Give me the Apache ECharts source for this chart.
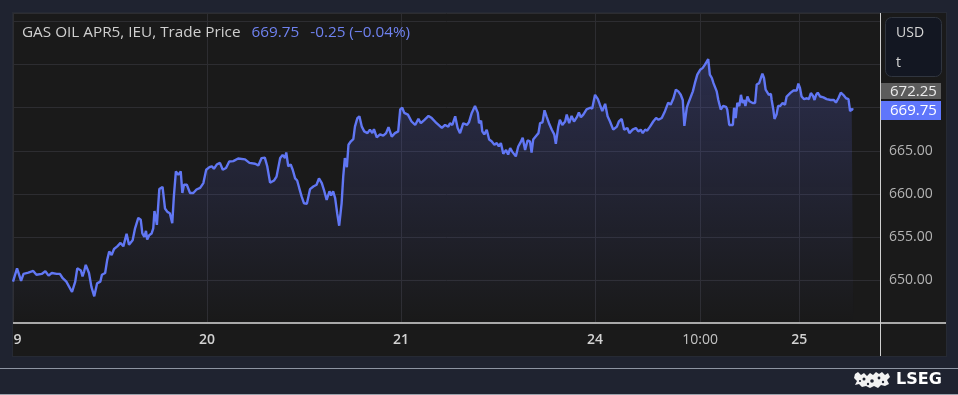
<!DOCTYPE html>
<html>
<head>
<meta charset="utf-8">
<script src="https://cdn.jsdelivr.net/npm/echarts@6/dist/echarts.min.js"></script>
<style>
  html,body{margin:0;padding:0;background:#1f2330;width:958px;height:395px;overflow:hidden;}
  #panel{position:absolute;left:12px;top:12px;width:933px;height:343px;background:#1a1a1a;border:1px solid #262a34;}
  #sep{position:absolute;left:0;top:368px;width:958px;height:1px;background:#8d94a2;}
  #bot{position:absolute;left:0;top:394px;width:958px;height:1px;background:#9ba0aa;}
  #chart{position:absolute;left:0;top:0;width:958px;height:395px;}
</style>
</head>
<body>
<div id="panel"></div>
<div id="sep"></div>
<div id="bot"></div>
<div id="chart"></div>
<script>
// ---- data (trading hours since start of 19th, price) ----
const hours = [
  0, 0.5, 0.7, 1.0, 1.3, 1.9, 2.5, 2.9, 3.55, 4.0,
  4.4, 4.8, 5.4, 5.8, 6.15, 6.6, 7.3, 7.7, 7.95, 8.4,
  8.6, 8.8, 9.0, 9.4, 9.7, 10.05, 10.4, 10.8, 11.0, 11.4,
  11.65, 11.9, 12.2, 12.5, 12.9, 13.3, 13.65, 14.05, 14.35, 14.8,
  15.1, 15.5, 15.8, 16.0, 16.25, 16.45, 16.6, 16.85, 17.15, 17.35,
  17.5, 17.8, 18.1, 18.5, 18.8, 19.1, 19.4, 19.7, 19.9, 20.15,
  20.45, 20.75, 20.95, 21.15, 21.5, 21.9, 22.3, 22.7, 23.15, 23.55,
  23.9, 24.3,
  24.6, 24.85, 25.2, 25.6, 25.95, 26.35, 26.75, 27.25, 27.85, 28.7,
  29.25, 29.95, 30.35, 30.75, 31.15, 31.45, 31.8, 32.3, 32.6, 33.05,
  33.35, 33.65, 33.8, 34.05, 34.35, 34.6, 34.9, 35.15, 35.4, 35.7,
  36.0, 36.35, 36.75, 37.15, 37.55, 37.85, 38.2, 38.45, 38.8, 39.15,
  39.35, 39.6, 39.85, 40.1, 40.35, 40.65, 40.85, 41.05, 41.3, 41.5,
  41.8, 42.1, 42.3, 42.6, 42.85, 43.15, 43.45, 43.85, 44.15, 44.45,
  44.65, 45.0, 45.4, 45.8, 46.15, 46.45, 46.85, 47.25, 47.65, 47.9,
  48.15, 48.4, 48.85, 49.3, 49.75, 50.15, 50.45, 50.9, 51.4, 51.8,
  52.4, 53.05, 53.45, 53.85, 54.05, 54.35, 54.7, 55.0, 55.3, 55.7,
  56.15, 56.4, 56.75, 57.15, 57.5, 57.65, 57.9, 58.05, 58.3, 58.6,
  58.9, 59.2, 59.55, 59.85, 60.1, 60.35, 60.65, 61.0, 61.25, 61.5,
  61.75, 62.2, 62.5, 62.85, 63.05, 63.35, 63.65, 63.95, 64.15, 64.35,
  64.65, 65.0, 65.2, 65.5, 65.75, 66.0, 66.3, 66.65, 66.95, 67.15,
  67.45, 67.65, 67.95, 68.3, 68.5, 68.8, 69.1, 69.4, 69.75, 70.0,
  70.25, 70.55, 70.95, 71.4, 71.65,
  72.0, 72.35, 72.6, 72.9, 73.25, 73.55, 73.85, 74.25, 74.7, 74.95,
  75.3, 75.6, 76.0, 76.25, 76.65, 77.05, 77.35, 77.65, 77.9, 78.2,
  78.45, 78.8, 79.2, 79.55, 79.85, 80.25, 80.65, 81.05, 81.35, 81.7,
  82.0, 82.3, 82.6, 82.85, 83.05, 83.35, 83.55, 83.75, 84.1, 84.35,
  84.65, 85.0, 85.3, 85.6, 85.75, 86.0, 86.2, 86.45, 86.65, 86.85,
  87.05, 87.25, 87.55, 87.85, 88.2, 88.35, 88.6, 88.8, 89.05, 89.2,
  89.4, 89.6, 89.85, 90.05, 90.25, 90.45, 90.6, 90.85, 91.1, 91.3,
  91.5, 91.8, 92.0, 92.3, 92.5, 92.7, 92.9, 93.1, 93.3, 93.5,
  93.75, 93.85, 94.05, 94.2, 94.45, 94.65, 94.9, 95.2, 95.5, 95.7,
  95.9, 96.2, 96.55, 96.95, 97.15, 97.35, 97.55, 97.85, 98.2, 98.45,
  98.7, 98.95, 99.15, 99.35, 99.55, 99.85, 100.25, 100.65, 101.15, 101.55,
  101.8, 102.1, 102.4, 102.7, 103.05, 103.35, 103.55, 103.75, 103.95
];
const prices = [
  649.8, 651.35, 651.2, 649.9, 650.7, 650.85, 651.05, 650.6, 650.7, 651.0,
  650.5, 650.8, 650.7, 650.7, 650.2, 649.8, 648.6, 649.8, 651.35, 651.1,
  650.4, 651.0, 651.75, 650.8, 649.2, 648.1, 649.6, 649.8, 650.6, 650.8,
  652.3, 653.3, 652.9, 653.6, 653.9, 654.3, 653.9, 655.35, 654.1, 654.6,
  656.0, 657.2, 657.0, 655.4, 655.0, 655.7, 654.7, 655.2, 655.4, 656.0,
  658.0, 656.4, 660.55, 660.8, 658.3, 657.9, 657.75, 656.6, 659.7, 662.6,
  662.2, 662.6, 660.1, 661.05, 661.05, 660.1, 660.1, 660.5, 660.7, 661.25,
  662.8, 663.1,
  663.2, 662.9, 663.4, 663.6, 662.8, 663.0, 663.75, 663.8, 664.1, 664.0,
  663.6, 663.5, 663.3, 664.15, 664.2, 663.2, 661.3, 661.55, 662.0, 664.15,
  664.5, 664.15, 664.8, 663.2, 663.4, 662.8, 661.8, 661.55, 660.7, 659.7,
  658.9, 658.85, 660.55, 660.85, 661.05, 661.8, 661.25, 660.5, 659.3, 660.3,
  659.8, 660.3, 659.5, 657.75, 656.3, 658.9, 662.0, 664.15, 663.1, 665.7,
  666.1, 666.35, 667.8, 668.8, 669.0, 667.8, 667.25, 667.05, 667.45, 667.05,
  667.5, 666.55, 666.9, 666.75, 667.05, 667.75, 666.65, 667.05, 667.25, 669.8,
  670.0, 669.4, 669.2, 668.4, 668.0, 668.7, 668.2, 668.6, 669.05, 668.8,
  668.2, 667.65, 668.0, 667.8, 668.2, 668.0, 669.0, 667.65, 667.05, 668.2,
  668.0, 668.3, 669.4, 670.2, 669.4, 668.2, 668.5, 667.25, 666.9, 667.45,
  666.3, 666.1, 665.7, 665.9, 665.5, 665.9, 664.65, 665.1, 664.55, 665.3,
  664.9, 664.35, 665.5, 666.1, 666.5, 665.1, 666.2, 666.1, 664.8, 666.3,
  666.65, 667.05, 668.2, 668.3, 669.7, 669.0, 668.2, 667.45, 666.9, 665.8,
  667.8, 668.6, 668.0, 668.4, 669.2, 668.2, 669.05, 668.4, 668.9, 669.45,
  668.9, 669.2, 669.8, 670.0, 669.9,
  671.5, 671.0, 670.35, 669.6, 670.45, 669.0, 668.4, 667.45, 667.8, 668.4,
  668.7, 667.45, 667.65, 667.05, 667.45, 667.65, 667.25, 667.45, 667.05, 667.45,
  667.35, 667.8, 668.4, 668.8, 668.6, 668.8, 669.6, 670.6, 670.35, 671.1,
  672.1, 671.9, 671.5, 670.9, 667.9, 670.0, 670.55, 670.35, 671.9, 672.85,
  673.85, 674.4, 674.6, 675.0, 674.8, 675.65, 673.85, 673.45, 672.85, 673.05,
  671.9, 670.9, 669.8, 670.2, 670.1, 669.8, 668.0, 667.9, 668.0, 670.0,
  668.8, 670.55, 670.2, 671.5, 670.55, 670.9, 670.2, 671.3, 670.75, 670.9,
  670.55, 670.55, 672.7, 672.85, 672.7, 673.95, 673.45, 672.1, 672.2, 671.5,
  671.6, 670.9, 669.8, 668.7, 669.2, 670.2, 670.2, 670.55, 670.35, 671.3,
  671.1, 671.75, 672.0, 672.0, 672.8, 672.3, 671.3, 671.0, 671.1, 671.0,
  671.7, 671.4, 670.9, 671.5, 671.75, 671.3, 671.2, 671.0, 670.9, 670.9,
  670.6, 671.1, 671.75, 671.5, 671.1, 671.0, 669.6, 669.85, 669.75
];
// x tick positions (trading hours) and their labels
const tickHours  = [0, 24, 48, 72, 85, 97.25];
const tickLabels = ['9', '20', '21', '24', '10:00', '25'];
const tickBold   = [true, true, true, true, false, true];
// y axis labelled ticks
const yLabelled = [650, 655, 660, 665];
const lastPrice = 669.75;
const refPrice = 672.25;
const change = '-0.25';
const changePct = '(\u22120.04%)';
const titleText = 'GAS OIL APR5, IEU, Trade Price';

const FONT = 'Open Sans';
const chart = echarts.init(document.getElementById('chart'), null, {renderer: 'canvas'});
const seriesData = hours.map((h, i) => [h, prices[i]]);

const baseGraphic = [
  {type: 'line', silent: true, z: 10, shape: {x1: 13, y1: 323, x2: 946, y2: 323}, style: {stroke: '#a9a9a9', lineWidth: 2}},
  {type: 'line', silent: true, z: 10, shape: {x1: 880.5, y1: 13, x2: 880.5, y2: 356}, style: {stroke: '#cfcfcf', lineWidth: 1}},
  {type: 'rect', silent: true, z: 10, shape: {x: 885.5, y: 17.5, width: 56, height: 59, r: 6}, style: {fill: '#131722', stroke: '#30353f', lineWidth: 1}},
  {type: 'text', silent: true, z: 11, x: 896, y: 33, style: {text: 'USD', fill: '#d6d6d6', fontSize: 14, fontFamily: FONT, verticalAlign: 'middle'}},
  {type: 'text', silent: true, z: 11, x: 896, y: 63, style: {text: 't', fill: '#d6d6d6', fontSize: 14, fontFamily: FONT, verticalAlign: 'middle'}},
  {type: 'text', silent: true, z: 11, x: 896, y: 380, style: {text: 'LSEG', fill: '#ffffff', fontSize: 16, fontWeight: 'bold', fontFamily: 'DejaVu Sans', verticalAlign: 'middle'}},
  {type: 'group', silent: true, z: 11, children: [
    {type: 'polygon', shape: {points: [[855,374],[858,372],[861,375],[864,373],[867,376],[870,373],[873,375],[876,372],[879,374],[882,372],[885,375],[888,373],[890,377],[887,380],[889,384],[885,386],[881,385],[878,388],[874,386],[870,388],[866,386],[862,387],[859,384],[855,385],[857,381],[854,378]]}, style: {fill: '#f2f2f2'}},
    {type: 'circle', shape: {cx: 864, cy: 379, r: 1.5}, style: {fill: '#1f2330'}},
    {type: 'circle', shape: {cx: 872, cy: 381, r: 1.8}, style: {fill: '#1f2330'}},
    {type: 'circle', shape: {cx: 879, cy: 378, r: 1.4}, style: {fill: '#1f2330'}},
    {type: 'circle', shape: {cx: 868, cy: 384, r: 1.2}, style: {fill: '#1f2330'}},
    {type: 'circle', shape: {cx: 883, cy: 382, r: 1.2}, style: {fill: '#1f2330'}},
    {type: 'circle', shape: {cx: 860, cy: 381, r: 1.1}, style: {fill: '#1f2330'}}
  ]}
];

const option = {
  backgroundColor: 'transparent',
  animation: false,
  title: {
    left: 22, top: 25, padding: 0,
    text: '{a|' + titleText + '}{p|' + lastPrice.toFixed(2) + '}{c|' + change + ' ' + changePct + '}',
    textStyle: {
      fontWeight: 'normal',
      rich: {
        a: {color: '#cfcfcf', fontSize: 15.3, fontWeight: 'normal', fontFamily: FONT, lineHeight: 16},
        p: {color: '#6f82f0', fontSize: 15.3, fontWeight: 'normal', fontFamily: FONT, lineHeight: 16, padding: [0, 0, 0, 11]},
        c: {color: '#6f82f0', fontSize: 15.3, fontWeight: 'normal', fontFamily: FONT, lineHeight: 16, padding: [0, 0, 0, 11]}
      }
    }
  },
  grid: {left: 13, top: 13, right: 78, bottom: 72, containLabel: false},
  xAxis: {
    type: 'value', min: 0, max: 107.25,
    axisLine: {show: false},
    axisTick: {show: false, customValues: tickHours},
    splitLine: {show: true, lineStyle: {color: '#2d2d31', width: 1}},
    axisLabel: {
      customValues: tickHours,
      margin: 10,
      fontFamily: FONT,
      formatter: function (v) {
        const i = tickHours.indexOf(v);
        if (i < 0) return '';
        if (i === 0) return '{f|' + tickLabels[i] + '}';
        return tickBold[i] ? '{b|' + tickLabels[i] + '}' : '{n|' + tickLabels[i] + '}';
      },
      rich: {
        b: {color: '#d2d2d2', fontSize: 14, fontWeight: 600, fontFamily: FONT},
        n: {color: '#c4c4c4', fontSize: 14, fontWeight: 400, fontFamily: FONT},
        f: {color: '#d2d2d2', fontSize: 14, fontWeight: 600, fontFamily: FONT, padding: [0, 0, 0, 9]}
      }
    }
  },
  yAxis: {
    type: 'value', position: 'right', min: 645, max: 681, interval: 5,
    axisLine: {show: false},
    axisTick: {show: false},
    splitLine: {show: true, lineStyle: {color: '#2d2d31', width: 1}},
    axisLabel: {
      margin: 9, color: '#b4b4b4', fontSize: 14, fontFamily: FONT,
      showMaxLabel: false,
      formatter: function (v) { return yLabelled.indexOf(v) >= 0 ? v.toFixed(2) : ''; }
    }
  },
  series: [{
    type: 'line',
    data: seriesData,
    showSymbol: false,
    symbol: 'none',
    smooth: false,
    lineStyle: {color: '#6177f4', width: 2.4},
    areaStyle: {
      color: new echarts.graphic.LinearGradient(0, 0, 0, 1, [
        {offset: 0, color: 'rgba(100,112,245,0.32)'},
        {offset: 1, color: 'rgba(100,112,245,0.0)'}
      ])
    }
  }],
  graphic: baseGraphic
};
chart.setOption(option);

// price tags on the y axis, placed through the axis scale
function priceTag(value, bg, fg, padV, dy) {
  const y = chart.convertToPixel({yAxisIndex: 0}, value) + dy;
  const h = 15 + 2 * padV;
  return {
    type: 'group', silent: true, z: 12, x: 881, y: Math.round(y - h / 2),
    children: [
      {type: 'rect', shape: {x: 0, y: 0, width: 60, height: h}, style: {fill: bg}},
      {type: 'text', x: 9, y: h / 2 + 0.5, style: {text: value.toFixed(2), fill: fg, fontSize: 15, fontFamily: FONT, verticalAlign: 'middle'}}
    ]
  };
}
chart.setOption({
  graphic: baseGraphic.concat([
    priceTag(refPrice, '#5c5c5c', '#ebebeb', 0.5, 2.5),
    priceTag(lastPrice, '#5f76fb', '#ffffff', 2, 1)
  ])
});
</script>
</body>
</html>
